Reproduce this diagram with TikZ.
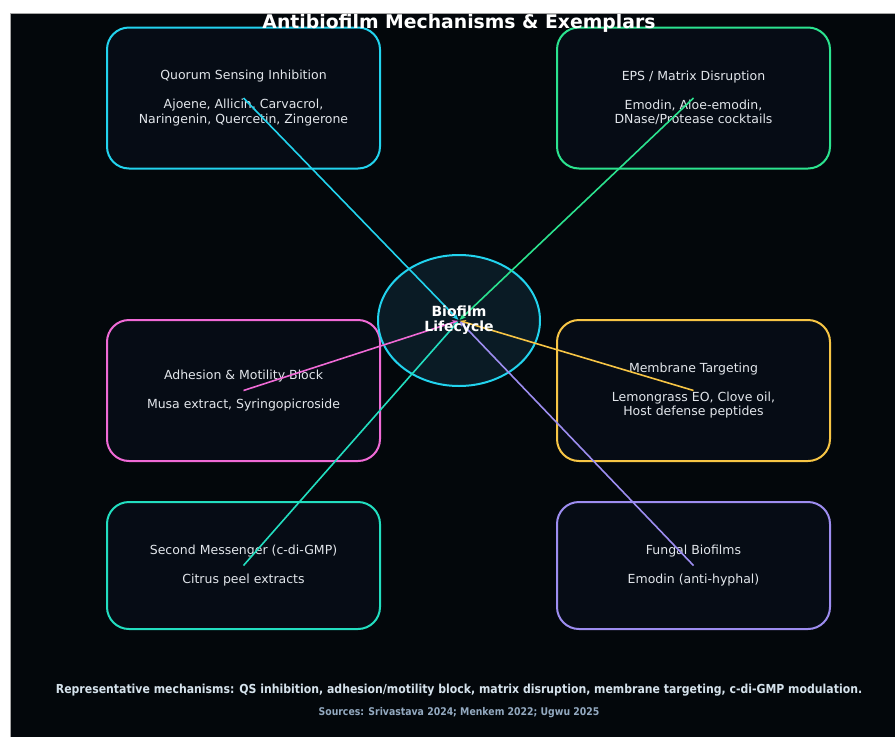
\documentclass[tikz,border=0pt]{standalone}
\usepackage{fontspec}
\setmainfont{DejaVu Sans}
\newfontfamily\footfont[FakeStretch=0.88]{DejaVu Sans}
\usepackage{xcolor}
\usepackage{tikz}
\usetikzlibrary{arrows.meta,shapes.geometric}
\definecolor{PageDark}{HTML}{03070B}
\definecolor{BoxFill}{HTML}{060C15}
\definecolor{CoreFill}{HTML}{0A1B25}
\definecolor{TextLight}{HTML}{E2E6EB}
\definecolor{FootText}{HTML}{D5E2EC}
\definecolor{SourceText}{HTML}{93A9C0}
\definecolor{AccentCyan}{HTML}{22D3EE}
\definecolor{AccentGreen}{HTML}{2BE38F}
\definecolor{AccentPink}{HTML}{F06AD6}
\definecolor{AccentYellow}{HTML}{F7C545}
\definecolor{AccentTeal}{HTML}{22DEC0}
\definecolor{AccentLilac}{HTML}{9D8DF0}

\begin{document}
\begin{tikzpicture}[x=1pt,y=-1pt,
          every node/.style={font=\fontsize{12.5}{14.5}\selectfont,text=TextLight},
          mech/.style={draw=#1,fill=BoxFill,line width=2pt,rounded corners=22pt,
            minimum width=273pt,minimum height=141pt,align=center,inner sep=0pt},
          ar/.style={-{Stealth[length=6pt,width=5pt]},draw=#1,line width=1.6pt,shorten >=1pt}]
        \useasboundingbox (0,0) rectangle (895,737);
        \fill[white] (0,0) rectangle (895,737);
        \fill[PageDark] (10,13) rectangle (895,737);
        \draw[gray!70,line width=0.8pt] (10,737) -- (10,13) -- (895,13);
        % mechanism boxes
        \node[mech=AccentCyan] (qs) at (243.5,98)
        {Quorum Sensing Inhibition\\[14.5pt]
          Ajoene, Allicin, Carvacrol,\\
          Naringenin, Quercetin, Zingerone};
        \node[mech=AccentGreen] (eps) at (693.5,98)
        {EPS / Matrix Disruption\\[14.5pt]
          Emodin, Aloe-emodin,\\
          DNase/Protease cocktails};
        \node[mech=AccentPink] (adh) at (243.5,390.5)
        {Adhesion \& Motility Block\\[14.5pt]
          Musa extract, Syringopicroside};
        \node[mech=AccentYellow] (mem) at (693.5,390.5)
        {Membrane Targeting\\[14.5pt]
          Lemongrass EO, Clove oil,\\
          Host defense peptides};
        \node[mech=AccentTeal,minimum height=127pt] (cdg) at (243.5,565.5)
        {Second Messenger (c-di-GMP)\\[14.5pt]
          Citrus peel extracts};
        \node[mech=AccentLilac,minimum height=127pt] (fun) at (693.5,565.5)
        {Fungal Biofilms\\[14.5pt]
          Emodin (anti-hyphal)};
        % core
        \node[ellipse,draw=AccentCyan,fill=CoreFill,line width=2pt,
          minimum width=162pt,minimum height=131pt] (cycle) at (459,320.5) {};
        \foreach \src/\col in {qs/AccentCyan,eps/AccentGreen,adh/AccentPink,
            mem/AccentYellow,cdg/AccentTeal,fun/AccentLilac}
          \draw[ar=\col] (\src.center) -- (cycle.center);
        \node[font=\bfseries\fontsize{14}{15}\selectfont,text=white,align=center]
        (cyclelabel) at (cycle.center) {Biofilm\\Lifecycle};
        \node[font=\bfseries\fontsize{18.8}{20}\selectfont,text=white]
        (title) at (459,23) {Antibiofilm Mechanisms \& Exemplars};
        \node[font=\footfont\bfseries\fontsize{12.4}{14}\selectfont,text=FootText]
        (foot) at (459,690) {Representative mechanisms: QS inhibition, adhesion/motility block, matrix disruption, membrane targeting, c-di-GMP modulation.};
        \node[font=\footfont\bfseries\fontsize{10.6}{12}\selectfont,text=SourceText]
        (src) at (459,713) {Sources: Srivastava 2024; Menkem 2022; Ugwu 2025};
      \end{tikzpicture}
\end{document}
